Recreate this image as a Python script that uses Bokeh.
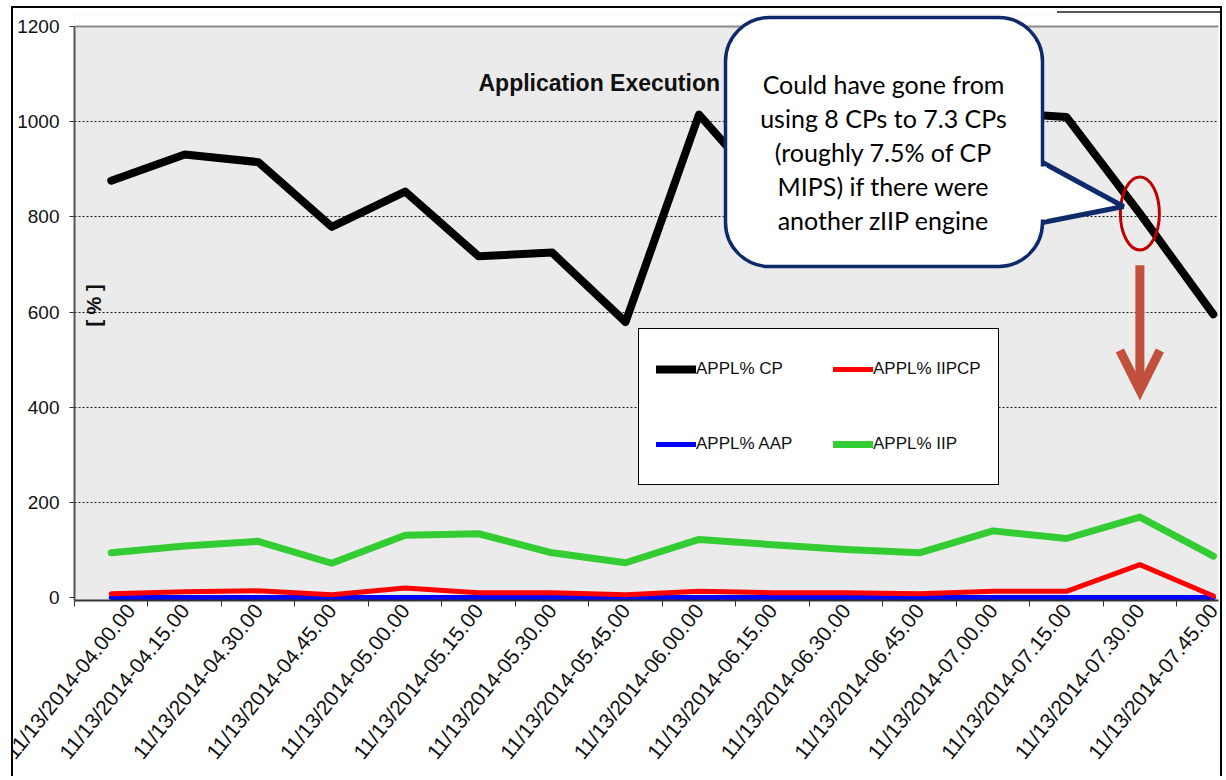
import math
from bokeh.plotting import figure
from bokeh.models import (FixedTicker, Legend, LegendItem, Label, BoxAnnotation,
                          PolyAnnotation, Arrow, OpenHead, Span, InlineStyleSheet)
from bokeh.embed import file_html
from bokeh.resources import INLINE

# ---------------- data ----------------
times = ["04.00.00", "04.15.00", "04.30.00", "04.45.00", "05.00.00", "05.15.00",
         "05.30.00", "05.45.00", "06.00.00", "06.15.00", "06.30.00", "06.45.00",
         "07.00.00", "07.15.00", "07.30.00", "07.45.00"]
tick_labels = ["11/13/2014-" + t for t in times]
appl_cp = [876, 931, 915, 779, 853, 717, 725, 579, 1015, 840, 900, 960, 1020, 1010, 807, 595]
appl_iipcp = [8, 12, 14, 6, 20, 10, 10, 6, 13, 10, 10, 8, 13, 13, 69, 3]
appl_aap = [0, 0, 0, 0, 0, 0, 0, 0, 0, 0, 0, 0, 0, 0, 0, 0]
appl_iip = [94, 108, 118, 72, 131, 134, 94, 73, 122, 111, 101, 94, 140, 124, 169, 87]
y_ticks = [0, 200, 400, 600, 800, 1000, 1200]
grid_ticks = [200, 400, 600, 800, 1000]
y_max = 1200
highlight_index = 14

xs = list(range(len(tick_labels)))

FONT = "Liberation Sans"
NAVY = "#0F2A6B"
CANVAS = dict(left_units="canvas", right_units="canvas",
              top_units="canvas", bottom_units="canvas")

W, H = 1224, 776
TOP = 14            # canvas y of frame top (room for the callout)
ZERO_Y = 597        # canvas y of value 0
BOTTOM = 600        # canvas y of frame bottom (series drawn over the axis)
PX_PER_UNIT = (ZERO_Y - 26) / y_max
y_top = (ZERO_Y - TOP) / PX_PER_UNIT
y_bottom = -(BOTTOM - ZERO_Y) / PX_PER_UNIT

css = InlineStyleSheet(css="""
:host::after {
  content: ""; position: absolute; left: 11px; top: 6px; width: 1211px; height: 770px;
  border-style: solid solid none solid; border-width: 2px; border-color: #000;
  box-sizing: border-box; pointer-events: none; z-index: 100;
  background: linear-gradient(#555555, #555555) no-repeat 1044px 3px / 168px 2px;
}
:host::before {
  content: ""; position: absolute; left: 0px; top: 600px; width: 11px; height: 176px;
  background: #ffffff; z-index: 100; pointer-events: none;
}
""")

p = figure(width=W, height=H, x_range=(-0.5, 15.07), y_range=(y_bottom, y_top),
           output_backend="svg", toolbar_location=None,
           min_border_left=74, min_border_right=6, min_border_top=TOP,
           min_border_bottom=H - BOTTOM,
           background_fill_color="#EBEBEB", border_fill_color="white",
           outline_line_color=None, stylesheets=[css])

# white strip above the 1200 line (outside the chart's plot area)
p.add_layout(BoxAnnotation(bottom=y_max, fill_color="white", fill_alpha=1,
                           line_alpha=0, level="underlay"))
p.add_layout(Span(location=y_max, dimension="width", line_color="#8C8C8C", line_width=2))

# ---------------- axes ----------------
xa = p.xaxis[0]
xa.ticker = FixedTicker(ticks=xs, minor_ticks=[i - 0.5 for i in range(len(xs) + 1)])
xa.major_label_overrides = {i: lab for i, lab in enumerate(tick_labels)}
xa.major_label_orientation = 0.89
xa.major_tick_out = 0
xa.major_tick_in = 0
xa.minor_tick_out = 6
xa.minor_tick_in = 0
xa.minor_tick_line_color = "#333333"
xa.axis_line_color = "#333333"
xa.axis_line_width = 2
xa.major_label_text_font = FONT
xa.major_label_text_font_size = "21px"
xa.major_label_text_color = "#111111"
xa.major_label_standoff = 0

ya = p.yaxis[0]
ya.ticker = FixedTicker(ticks=y_ticks)
ya.bounds = (y_bottom, y_max)
ya.minor_tick_out = 0
ya.minor_tick_in = 0
ya.major_tick_out = 5
ya.major_tick_in = 0
ya.major_tick_line_color = "#333333"
ya.axis_line_color = "#555555"
ya.axis_line_width = 2
ya.major_label_text_font = FONT
ya.major_label_text_font_size = "19px"
ya.major_label_text_color = "#111111"
ya.major_label_standoff = 10

p.xgrid.visible = False
p.ygrid.ticker = FixedTicker(ticks=grid_ticks)
p.ygrid.grid_line_color = "#222222"
p.ygrid.grid_line_dash = "2 2"
p.ygrid.grid_line_width = 1

# ---------------- series ----------------
r_aap = p.line(xs, appl_aap, line_color="#0000FF", line_width=5, line_join="round", line_cap="round")
r_iipcp = p.line(xs, appl_iipcp, line_color="#FF0000", line_width=5, line_join="round", line_cap="round")
r_iip = p.line(xs, appl_iip, line_color="#33CC33", line_width=7, line_join="round", line_cap="round")
r_cp = p.line(xs, appl_cp, line_color="#000000", line_width=8, line_join="round", line_cap="round")

legend = Legend(items=[LegendItem(label="APPL% CP", renderers=[r_cp]),
                       LegendItem(label="APPL% IIPCP", renderers=[r_iipcp]),
                       LegendItem(label="APPL% AAP", renderers=[r_aap]),
                       LegendItem(label="APPL% IIP", renderers=[r_iip])],
                ncols=2, location=(564, BOTTOM - 485), orientation="horizontal",
                glyph_width=40, glyph_height=20, label_height=46, label_width=108,
                label_standoff=0, spacing=29, padding=17, margin=0,
                label_text_font=FONT, label_text_font_size="17px",
                label_text_color="#111111",
                border_line_color="black", border_line_width=1, border_line_alpha=1,
                background_fill_color="white", background_fill_alpha=1)
p.add_layout(legend)

# ---------------- highlight ----------------
p.ellipse(x=[xs[highlight_index]], y=[appl_cp[highlight_index]], width=39, height=73,
          width_units="screen", height_units="screen",
          fill_alpha=0, line_color="#C00000", line_width=3)

p.add_layout(Arrow(x_start=xs[highlight_index], y_start=698,
                   x_end=xs[highlight_index], y_end=435,
                   line_color="#C1503C", line_width=9,
                   end=OpenHead(size=40, line_color="#C1503C", line_width=9, line_join="miter")))

# ---------------- texts ----------------
p.add_layout(Label(x=478, y=82, x_units="canvas", y_units="canvas",
                   text="Application Execution", text_font=FONT, text_font_style="bold",
                   text_font_size="23px", text_color="#111111",
                   text_align="left", text_baseline="alphabetic"))
p.add_layout(Label(x=93, y=305, x_units="canvas", y_units="canvas",
                   text="[ % ]", text_font=FONT, text_font_style="bold",
                   text_font_size="20px", text_color="#111111", angle=math.pi / 2,
                   text_align="center", text_baseline="middle"))

# ---------------- callout ----------------
p.add_layout(PolyAnnotation(xs=[1018, 1042, 1123, 1042, 1018], ys=[162, 162, 206, 222, 222],
                            xs_units="canvas", ys_units="canvas",
                            fill_color="white", fill_alpha=1,
                            line_color=NAVY, line_width=5, line_alpha=1))
p.add_layout(BoxAnnotation(left=725, right=1042, top=17, bottom=266, **CANVAS,
                           fill_color="white", fill_alpha=1,
                           line_color=NAVY, line_width=3.5, line_alpha=1, border_radius=44))
p.add_layout(BoxAnnotation(left=1038, right=1046, top=166, bottom=219, **CANVAS,
                           fill_color="white", fill_alpha=1, line_alpha=0))
callout_lines = ["Could have gone from", "using 8 CPs to 7.3 CPs", "(roughly 7.5% of CP",
                 "MIPS) if there were", "another zIIP engine"]
for k, t in enumerate(callout_lines):
    p.add_layout(Label(x=883, y=83 + 34 * k, x_units="canvas", y_units="canvas",
                       text=t, text_font="Lato", text_font_size="25px", text_color="black",
                       text_align="center", text_baseline="alphabetic"))

open("out.html", "w").write(file_html(p, INLINE))
